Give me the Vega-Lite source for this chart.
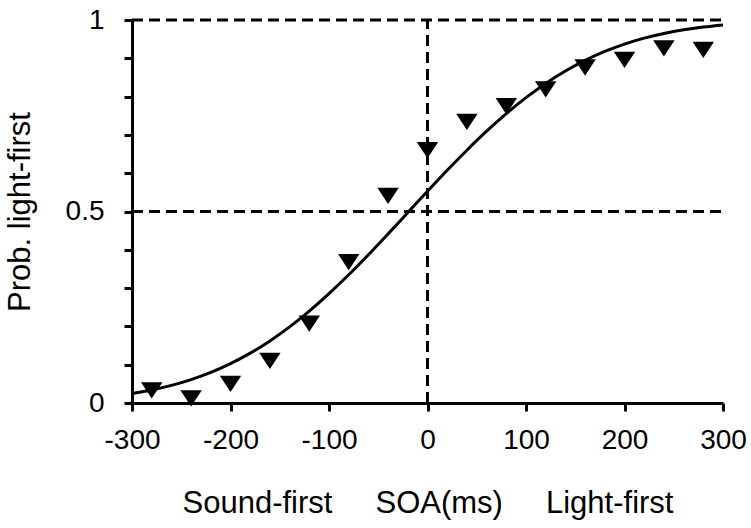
{
  "$schema": "https://vega.github.io/schema/vega-lite/v6.json",
  "width": 591,
  "height": 383,
  "autosize": "none",
  "padding": {"left": 132, "top": 20, "right": 28, "bottom": 125},
  "background": "white",
  "config": {
    "view": {"stroke": null},
    "font": "Liberation Sans",
    "axis": {
      "grid": false,
      "domainColor": "black",
      "domainWidth": 3,
      "tickColor": "black",
      "tickWidth": 3,
      "tickSize": 8,
      "labelColor": "black",
      "labelFont": "Liberation Sans",
      "labelFontSize": 28,
      "labelOverlap": false,
      "labelFlush": false,
      "titleColor": "black",
      "titleFont": "Liberation Sans",
      "titleFontSize": 31,
      "titleFontWeight": "normal"
    }
  },
  "datasets": {
    "points": [
      {"soa": -280, "p": 0.033},
      {"soa": -240, "p": 0.012},
      {"soa": -200, "p": 0.05},
      {"soa": -160, "p": 0.11},
      {"soa": -120, "p": 0.207},
      {"soa": -80, "p": 0.368},
      {"soa": -40, "p": 0.541},
      {"soa": 0, "p": 0.66},
      {"soa": 40, "p": 0.734},
      {"soa": 80, "p": 0.775},
      {"soa": 120, "p": 0.819},
      {"soa": 160, "p": 0.876},
      {"soa": 200, "p": 0.896},
      {"soa": 240, "p": 0.926},
      {"soa": 280, "p": 0.922}
    ],
    "curve": [
      {"soa": -300, "p": 0.0247},
      {"soa": -280, "p": 0.034},
      {"soa": -260, "p": 0.046},
      {"soa": -240, "p": 0.0611},
      {"soa": -220, "p": 0.0799},
      {"soa": -200, "p": 0.1028},
      {"soa": -180, "p": 0.1301},
      {"soa": -160, "p": 0.1621},
      {"soa": -140, "p": 0.1988},
      {"soa": -120, "p": 0.24},
      {"soa": -100, "p": 0.2856},
      {"soa": -80, "p": 0.3348},
      {"soa": -60, "p": 0.3871},
      {"soa": -40, "p": 0.4416},
      {"soa": -20, "p": 0.4972},
      {"soa": 0, "p": 0.5529},
      {"soa": 20, "p": 0.6075},
      {"soa": 40, "p": 0.66},
      {"soa": 60, "p": 0.7096},
      {"soa": 80, "p": 0.7556},
      {"soa": 100, "p": 0.7973},
      {"soa": 120, "p": 0.8345},
      {"soa": 140, "p": 0.8669},
      {"soa": 160, "p": 0.8947},
      {"soa": 180, "p": 0.918},
      {"soa": 200, "p": 0.9372},
      {"soa": 220, "p": 0.9527},
      {"soa": 240, "p": 0.9649},
      {"soa": 260, "p": 0.9745},
      {"soa": 280, "p": 0.9817},
      {"soa": 300, "p": 0.9872}
    ],
    "hlines": [
      {"soa": -300, "soa_end": 300, "p": 1},
      {"soa": -300, "soa_end": 300, "p": 0.5}
    ],
    "vlines": [
      {"soa": 0, "p": 0, "p_end": 1}
    ]
  },
  "encoding": {
    "x": {"field": "soa", "type": "quantitative",
      "scale": {"domain": [-300, 300], "nice": false, "zero": false},
      "axis": {
        "tickCount": 6,
        "labelExpr": "'' + datum.value",
        "labelPadding": 15,
        "title": "Sound-first\u00a0\u00a0\u00a0\u00a0\u00a0SOA(ms)\u00a0\u00a0\u00a0\u00a0\u00a0Light-first",
        "titleY": 100,
        "titleBaseline": "middle"
      }
    },
    "y": {"field": "p", "type": "quantitative",
      "scale": {"domain": [0, 1], "nice": false},
      "axis": {
        "tickCount": 10,
        "labelExpr": "datum.value == 0 ? '0' : abs(datum.value - 0.5) < 0.001 ? '0.5' : datum.value == 1 ? '1' : ''",
        "labelPadding": 20,
        "title": "Prob. light-first",
        "titleX": -112,
        "titleY": 191.5,
        "titleAngle": -90,
        "titleAlign": "center",
        "titleBaseline": "middle"
      }
    }
  },
  "layer": [
    {
      "data": {"name": "hlines"},
      "mark": {"type": "rule", "strokeWidth": 3, "strokeDash": [11, 6], "color": "black"},
      "encoding": {
        "x2": {"field": "soa_end"}
      }
    },
    {
      "data": {"name": "vlines"},
      "mark": {"type": "rule", "strokeWidth": 3, "strokeDash": [11, 6], "color": "black"},
      "encoding": {
        "y2": {"field": "p_end"}
      }
    },
    {
      "data": {"name": "curve"},
      "mark": {"type": "line", "strokeWidth": 3, "color": "black", "interpolate": "monotone"},
      "encoding": {}
    },
    {
      "data": {"name": "points"},
      "mark": {"type": "point", "shape": "M-1,-0.76L1,-0.76L0,0.76Z", "filled": true, "color": "black", "opacity": 1, "size": 460},
      "encoding": {}
    }
  ]
}
